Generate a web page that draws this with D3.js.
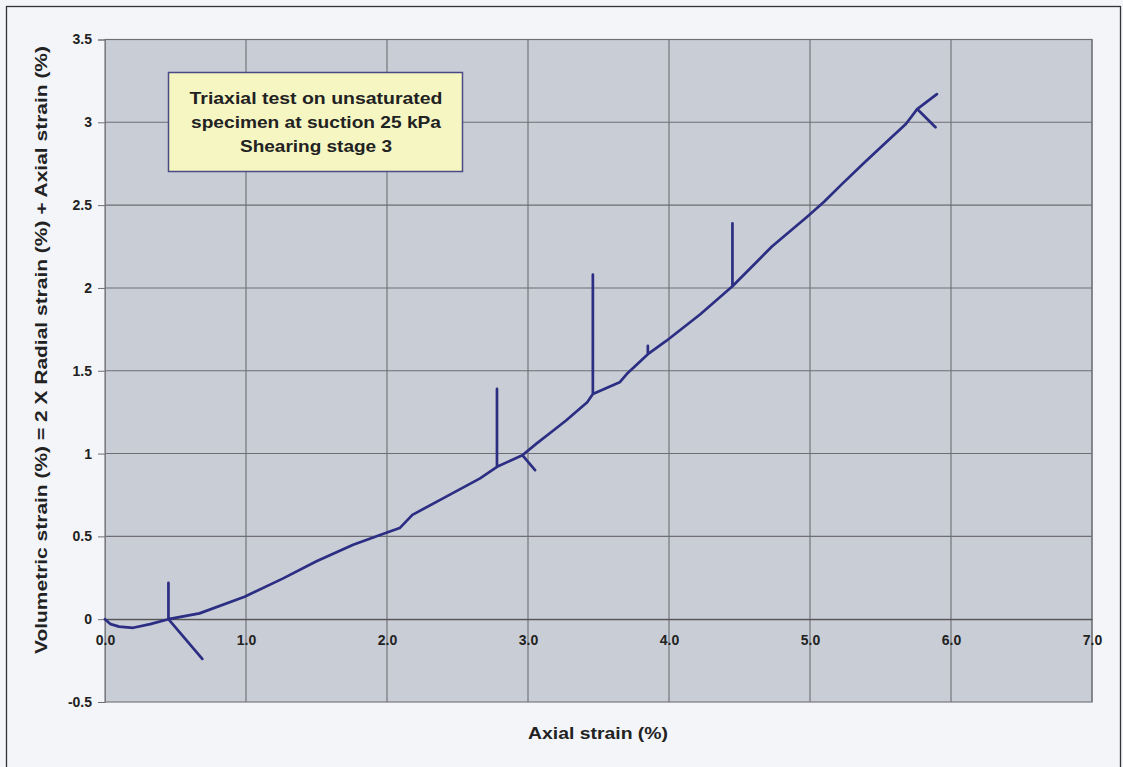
<!DOCTYPE html>
<html>
<head>
<meta charset="utf-8">
<script src="https://cdn.jsdelivr.net/npm/d3@7/dist/d3.min.js"></script>
<style>
  html, body { margin: 0; padding: 0; background: #f3f5f9; }
  svg { display: block; }
  text { font-family: Arial, "Liberation Sans", sans-serif; font-weight: bold; fill: #222; }
</style>
</head>
<body>
<svg id="chart" width="1123" height="767"></svg>
<script>
// Shearing stage 3: axial strain (%) vs volumetric strain (%), in logged order
const axialStrain = [0, 0.04, 0.10, 0.20, 0.32, 0.45, 0.45, 0.45, 0.69, 0.45,
  0.67, 0.99, 1.26, 1.50, 1.76, 1.99, 2.09, 2.18, 2.42, 2.66, 2.78, 2.78, 2.78,
  2.96, 3.05, 2.96, 3.06, 3.15, 3.27, 3.42, 3.46, 3.46, 3.46, 3.65, 3.70, 3.85,
  3.85, 3.85, 3.98, 4.22, 4.45, 4.45, 4.45, 4.73, 4.98, 5.10, 5.23, 5.39, 5.54,
  5.68, 5.76, 5.89, 5.76, 5.90];
const volumetricStrain = [0, -0.03, -0.045, -0.052, -0.03, 0, 0.22, 0, -0.24, 0,
  0.035, 0.135, 0.245, 0.35, 0.45, 0.52, 0.55, 0.63, 0.74, 0.85, 0.92, 1.39, 0.92,
  0.99, 0.90, 0.99, 1.06, 1.12, 1.20, 1.31, 1.36, 2.08, 1.36, 1.43, 1.48, 1.60,
  1.65, 1.60, 1.68, 1.84, 2.01, 2.39, 2.01, 2.25, 2.43, 2.52, 2.63, 2.76, 2.88,
  2.99, 3.08, 2.97, 3.08, 3.17];

const xTicks = [0, 1, 2, 3, 4, 5, 6, 7];
const yTicks = [-0.5, 0, 0.5, 1, 1.5, 2, 2.5, 3, 3.5];
const noteLines = ["Triaxial test on unsaturated", "specimen at suction 25 kPa", "Shearing stage 3"];
const xTitle = "Axial strain (%)";
const yTitle = "Volumetric strain (%) = 2 X Radial strain (%) + Axial strain (%)";

const svg = d3.select("#chart");
const plot = { left: 105, right: 1092, top: 39.5, bottom: 702 };

const x = d3.scaleLinear().domain([0, 7]).range([plot.left, plot.right]);
const y = d3.scaleLinear().domain([-0.5, 3.5]).range([plot.bottom, plot.top]);

const FONT = "Arial, 'Liberation Sans', sans-serif";

// outer frame
svg.append("rect")
  .attr("x", 6.5).attr("y", 6.5).attr("width", 1114).attr("height", 770)
  .attr("fill", "#f3f5f9").attr("stroke", "#333").attr("stroke-width", 1.3);

// plot area
svg.append("rect")
  .attr("x", plot.left).attr("y", plot.top)
  .attr("width", plot.right - plot.left).attr("height", plot.bottom - plot.top)
  .attr("fill", "#c9cdd6").attr("stroke", "#7a7a80").attr("stroke-width", 1.2);

// gridlines
const grid = svg.append("g").attr("stroke", "#6e6e74").attr("stroke-width", 1.1);
grid.selectAll(".vg").data(xTicks.slice(1)).join("line")
  .attr("x1", d => x(d)).attr("x2", d => x(d))
  .attr("y1", plot.top).attr("y2", plot.bottom);
grid.selectAll(".hg").data(yTicks.slice(1)).join("line")
  .attr("x1", plot.left).attr("x2", plot.right)
  .attr("y1", d => y(d)).attr("y2", d => y(d));

// y axis on the left edge
const yAxis = d3.axisLeft(y).tickValues(yTicks).tickSize(7).tickPadding(6)
  .tickFormat(d => d === 0 ? "0" : String(d));
const gy = svg.append("g").attr("transform", `translate(${plot.left},0)`).call(yAxis);
gy.select(".domain").attr("stroke", "#7a7a80");
gy.selectAll(".tick line").attr("stroke", "#6e6e74");
gy.selectAll(".tick text").attr("font-size", 14).attr("fill", "#222")
  .attr("font-family", FONT).attr("font-weight", "bold");

// x axis crossing at zero volumetric strain, labels hanging below it
const xAxis = d3.axisBottom(x).tickValues(xTicks).tickSize(0).tickPadding(16)
  .tickFormat(d3.format(".1f"));
const gx = svg.append("g").attr("transform", `translate(0,${y(0)})`).call(xAxis);
gx.select(".domain").attr("stroke", "#555").attr("stroke-width", 1.3);
gx.selectAll(".tick text").attr("font-size", 14).attr("fill", "#222")
  .attr("font-family", FONT).attr("font-weight", "bold");

// data line
const line = d3.line().x(i => x(axialStrain[i])).y(i => y(volumetricStrain[i]));
svg.append("path")
  .datum(d3.range(axialStrain.length))
  .attr("d", line)
  .attr("fill", "none")
  .attr("stroke", "#2b2e82")
  .attr("stroke-width", 2.7)
  .attr("stroke-linejoin", "round")
  .attr("stroke-linecap", "round");

// note box
const noteWidths = [253, 250, 152];
const note = svg.append("g");
note.append("rect")
  .attr("x", 168.5).attr("y", 72.5).attr("width", 294).attr("height", 99)
  .attr("fill", "#f6f6c3").attr("stroke", "#4a4a86").attr("stroke-width", 1.5);
note.selectAll("text").data(noteLines).join("text")
  .attr("x", 316).attr("y", (d, i) => 104 + i * 24)
  .attr("text-anchor", "middle").attr("font-size", 17)
  .attr("textLength", (d, i) => noteWidths[i]).attr("lengthAdjust", "spacingAndGlyphs")
  .text(d => d);

// axis titles
svg.append("text")
  .attr("x", 598).attr("y", 739)
  .attr("text-anchor", "middle").attr("font-size", 17)
  .attr("textLength", 140).attr("lengthAdjust", "spacingAndGlyphs")
  .text(xTitle);
svg.append("text")
  .attr("transform", "translate(47,350) rotate(-90)")
  .attr("text-anchor", "middle").attr("font-size", 17)
  .attr("textLength", 608).attr("lengthAdjust", "spacingAndGlyphs")
  .text(yTitle);
</script>
</body>
</html>
